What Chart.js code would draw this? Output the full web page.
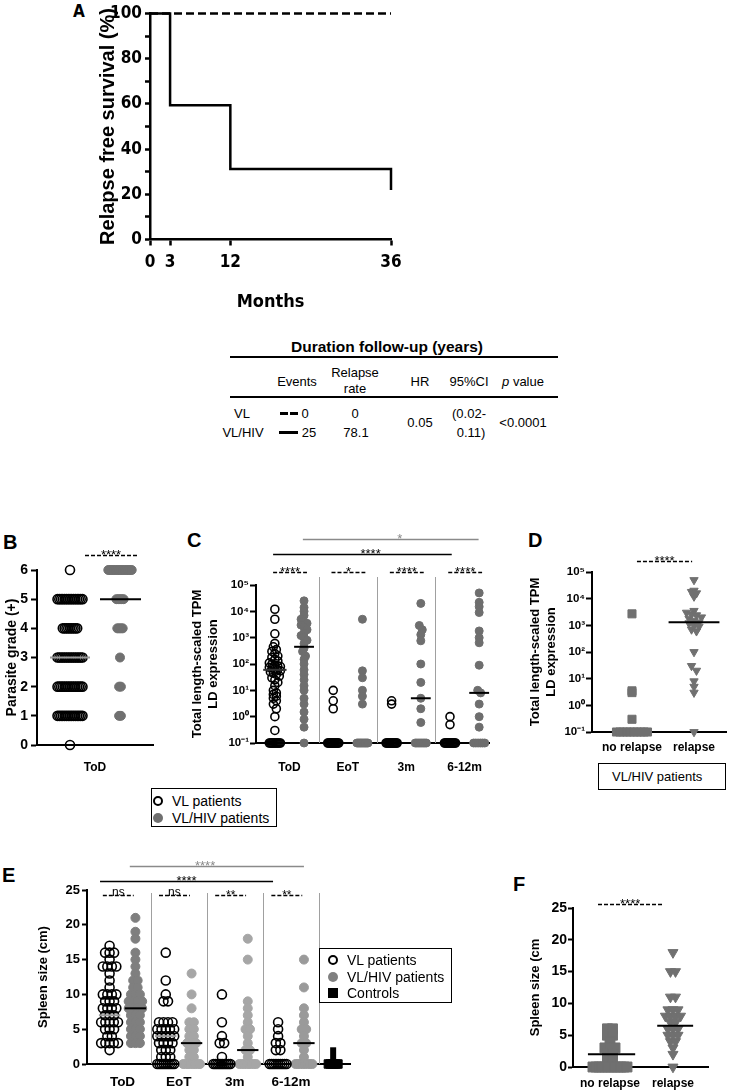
<!DOCTYPE html>
<html>
<head>
<meta charset="utf-8">
<script src="https://cdn.jsdelivr.net/npm/chart.js@4.4.1/dist/chart.umd.min.js"></script>
<style>
  html, body { margin: 0; padding: 0; background: #fff; }
  #page { position: relative; width: 736px; height: 1090px; overflow: hidden; font-family: 'Liberation Sans', Arial, sans-serif; color: #000; }
  canvas { position: absolute; }
  .letter { position: absolute; font-weight: bold; font-size: 20px; line-height: 1; }
  .c { position: absolute; transform: translate(-50%, -50%); white-space: nowrap; font-size: 13px; line-height: 1; }
  .l { position: absolute; transform: translateY(-50%); white-space: nowrap; font-size: 14px; line-height: 1; }
  .rule { position: absolute; background: #000; }
  .box { position: absolute; border: 1px solid #000; box-sizing: border-box; }
  .mark { position: absolute; width: 10px; height: 10px; transform: translate(-50%, -50%); box-sizing: border-box; }
</style>
</head>
<body>
<div id="page">
  <!-- panel letters -->
  <div class="letter" style="left:73px;top:3px;font-size:17px;font-family:'Liberation Sans Narrow','DejaVu Sans Condensed','Liberation Sans',sans-serif">A</div>
  <div class="letter" style="left:3px;top:532px">B</div>
  <div class="letter" style="left:187px;top:530px">C</div>
  <div class="letter" style="left:528px;top:530px">D</div>
  <div class="letter" style="left:2px;top:865px">E</div>
  <div class="letter" style="left:513px;top:874px">F</div>

  <canvas id="chartA" width="340" height="320" style="left:86px;top:0"></canvas>

  <!-- follow-up table -->
  <div class="c" style="left:387px;top:347px;font-weight:bold;font-size:15.5px">Duration follow-up (years)</div>
  <div class="rule" style="left:230px;top:356px;width:328px;height:2px"></div>
  <div class="c" style="left:297px;top:381px">Events</div>
  <div class="c" style="left:355px;top:372px">Relapse</div>
  <div class="c" style="left:355px;top:388px">rate</div>
  <div class="c" style="left:420px;top:381px">HR</div>
  <div class="c" style="left:469px;top:381px">95%CI</div>
  <div class="c" style="left:523px;top:381px"><i>p</i> value</div>
  <div class="rule" style="left:230px;top:396px;width:328px;height:2px"></div>
  <div class="c" style="left:242px;top:413px">VL</div>
  <div class="c" style="left:243px;top:432px">VL/HIV</div>
  <div class="rule" style="left:280px;top:412px;width:8px;height:3px"></div>
  <div class="rule" style="left:290px;top:412px;width:8px;height:3px"></div>
  <div class="rule" style="left:279px;top:431px;width:19px;height:3px"></div>
  <div class="c" style="left:305px;top:413px">0</div>
  <div class="c" style="left:309px;top:432px">25</div>
  <div class="c" style="left:355px;top:413px">0</div>
  <div class="c" style="left:356px;top:432px">78.1</div>
  <div class="c" style="left:420px;top:422px">0.05</div>
  <div class="c" style="left:469px;top:413px">(0.02-</div>
  <div class="c" style="left:471px;top:432px">0.11)</div>
  <div class="c" style="left:523px;top:422px">&lt;0.0001</div>

  <canvas id="chartB" width="180" height="245" style="left:0;top:540px"></canvas>
  <canvas id="chartC" width="320" height="255" style="left:180px;top:525px"></canvas>
  <canvas id="chartD" width="236" height="230" style="left:500px;top:530px"></canvas>

  <!-- legend C -->
  <div class="box" style="left:151px;top:788px;width:126px;height:39px"></div>
  <div class="mark" style="left:158px;top:801px;border:2.5px solid #000;border-radius:50%"></div>
  <div class="mark" style="left:158px;top:818px;background:#707070;border-radius:50%"></div>
  <div class="l" style="left:172px;top:801px">VL patients</div>
  <div class="l" style="left:172px;top:818px">VL/HIV patients</div>

  <!-- box under D -->
  <div class="box" style="left:598px;top:763px;width:128px;height:27px"></div>
  <div class="l" style="left:612px;top:776px;font-size:13px">VL/HIV patients</div>

  <canvas id="chartE" width="360" height="235" style="left:0;top:855px"></canvas>

  <!-- legend E -->
  <div class="box" style="left:319px;top:948px;width:133px;height:55px"></div>
  <div class="mark" style="left:333px;top:960px;border:2.5px solid #000;border-radius:50%"></div>
  <div class="mark" style="left:333px;top:977px;background:#808080;border-radius:50%"></div>
  <div class="mark" style="left:333px;top:993px;background:#000"></div>
  <div class="l" style="left:347px;top:960px">VL patients</div>
  <div class="l" style="left:347px;top:977px">VL/HIV patients</div>
  <div class="l" style="left:347px;top:993px">Controls</div>

  <canvas id="chartF" width="276" height="220" style="left:460px;top:870px"></canvas>
</div>

<script>
// ---- A: relapse-free survival
const kmMonths = [0, 3, 12, 36];
const kmVL = [100, 100, 100, 100];
const kmVLHIV = [100, 59.4, 31.2, 21.9];

// ---- B: parasite grade at ToD (patients per grade)
const gradeLevels = [0, 1, 2, 3, 4, 5, 6];
const gradeCountVL = [1, 15, 15, 15, 9, 15, 1];
const gradeCountVLHIV = [0, 2, 2, 1, 4, 5, 14];
const gradeMedianVL = 3;
const gradeMedianVLHIV = 5;

// ---- C: LD expression per timepoint (undetectable samples counted separately)
const tpmTimepoints = ['ToD', 'EoT', '3m', '6-12m'];
const tpmVL = [
  [12000, 5000, 1400, 600, 450, 350, 300, 250, 200, 180, 150, 130, 110, 100, 90, 85, 80, 75, 70, 65, 60, 55, 50, 45, 40, 35, 30, 25, 20, 15, 10, 8, 7, 6, 5, 4, 3, 2, 1, 0.3],
  [10, 4, 2],
  [4, 3],
  [1, 0.5]
];
const tpmVLUndetected = [12, 14, 14, 14];
const tpmVLHIV = [
  [25000, 14000, 10000, 7000, 5000, 4000, 3500, 3000, 2500, 2000, 1500, 1200, 1000, 800, 600, 400, 300, 200, 150, 100, 60, 40, 25, 15, 10, 5, 3, 1.5, 0.8, 0.4],
  [5000, 55, 30, 10, 6, 3],
  [20000, 2900, 2000, 1300, 760, 100, 20, 5, 2, 0.6],
  [50000, 22000, 15000, 9000, 1800, 1000, 640, 90, 10, 8, 3, 1, 0.4]
];
const tpmVLHIVUndetected = [1, 10, 8, 6];
const tpmMedianVL = [60, null, null, null];
const tpmMedianVLHIV = [450, null, 5, 8];
const tpmSigPair = ['****', '*', '****', '****'];

// ---- D: VL/HIV patients by outcome
const outcomeGroups = ['no relapse', 'relapse'];
const tpmNoRelapse = [2700, 3.5, 3, 0.3];
const tpmNoRelapseUndetected = 10;
const tpmRelapse = [50000, 20000, 18000, 16000, 12000, 3500, 3000, 2600, 2400, 2000, 1800, 1500, 1300, 1200, 1000, 900, 700, 600, 100, 30, 20, 8, 5, 3];
const tpmRelapseUndetected = 1;
const tpmRelapseMedian = 1300;

// ---- E: spleen size per timepoint
const spleenTimepoints = ['ToD', 'EoT', '3m', '6-12m'];
const spleenVL = [
  [17, 16, 16, 16, 15, 14, 14, 14, 14, 13, 12, 11, 10, 10, 10, 10, 9, 9, 9, 8, 8, 8, 8, 7, 7, 7, 6, 6, 6, 6, 6, 5, 5, 5, 4, 4, 3, 3, 3, 3, 3, 2],
  [16, 12, 10, 9, 9, 6, 6, 6, 6, 5, 5, 5, 5, 5, 4, 4, 4, 4, 4, 3, 3, 3, 3, 2, 2, 2, 1, 1, 1, 0, 0, 0, 0, 0, 0, 0, 0, 0],
  [10, 6, 4, 3, 3, 1, 0, 0, 0, 0, 0, 0, 0, 0, 0, 0],
  [6, 5, 4, 3, 3, 2, 2, 0, 0, 0, 0, 0, 0, 0, 0, 0]
];
const spleenVLHIV = [
  [21, 19, 18, 16, 15, 14, 13, 12, 12, 11, 11, 10, 10, 10, 9, 9, 9, 9, 8, 8, 8, 8, 7, 7, 7, 6, 6, 6, 5, 5, 5, 4, 4, 4, 3, 3, 3],
  [13, 10, 8, 6, 6, 5, 5, 4, 4, 3, 3, 3, 2, 2, 1, 1, 0, 0, 0, 0, 0, 0, 0, 0],
  [18, 15, 9, 8, 7, 6, 5, 5, 4, 3, 2, 2, 1, 0, 0, 0, 0, 0, 0, 0, 0],
  [15, 11, 8, 7, 6, 5, 5, 4, 3, 3, 2, 1, 0, 0, 0, 0, 0, 0, 0, 0]
];
const spleenMedianVL = [7, 4, null, null];
const spleenMedianVLHIV = [8, 3, 2, 3];
const spleenSigPair = ['ns', 'ns', '**', '**'];
const spleenControls = [0, 0, 0, 0, 0, 0];
const spleenControlsSD = 2.4;

// ---- F: spleen size by outcome
const spleenNoRelapse = [6, 6, 5, 5, 4, 3, 3, 3, 2, 2, 1, 1, 0, 0, 0, 0, 0, 0, 0, 0, 0, 0, 0, 0];
const spleenRelapse = [18, 15, 15, 11, 11, 9, 9, 9, 8, 8, 8, 8, 7, 7, 6, 6, 6, 5, 5, 5, 4, 4, 3, 2, 0];
const spleenOutcomeMedian = [2, 6.5];

const FONT = "'Liberation Sans', Arial, Helvetica, sans-serif";
const NARROW = "'Liberation Sans Narrow', 'DejaVu Sans Condensed', 'Liberation Sans', sans-serif";
Chart.defaults.font.family = FONT;
Chart.defaults.color = '#000';

const LOG_FLOOR = 0.1; // undetectable samples sit on the 10^-1 axis
const SUP = { '-': '⁻', '0': '⁰', '1': '¹', '2': '²', '3': '³', '4': '⁴', '5': '⁵' };
const decades = [0.1, 1, 10, 100, 1000, 10000, 100000];

function powerLabel(v) {
  const e = String(Math.round(Math.log10(v)));
  return '10' + e.split('').map(c => SUP[c]).join('');
}

function repeat(value, n) {
  return Array.from({ length: n }, () => value);
}

// spread points with the same (binned) value side by side around a column centre
function swarm(values, center, step, maxSpread, keyFn) {
  const bins = new Map();
  values.forEach(v => {
    const k = keyFn(v);
    if (!bins.has(k)) bins.set(k, []);
    bins.get(k).push(v);
  });
  const pts = [];
  bins.forEach(list => {
    const n = list.length;
    const w = Math.min(step * (n - 1), maxSpread);
    list.forEach((v, i) => pts.push({ x: center + (n > 1 ? w * (i / (n - 1) - 0.5) : 0), y: v }));
  });
  return pts;
}
const exactKey = v => v;
const logKey = v => Math.round(Math.log10(v) * 5);

function openCircles(pts, r) {
  return { data: pts, clip: false, pointStyle: 'circle', pointRadius: r, pointBorderWidth: 1.6,
    pointBorderColor: '#000', pointBackgroundColor: 'rgba(255,255,255,0)' };
}

function filled(pts, style, r, color, rotation) {
  return { data: pts, clip: false, pointStyle: style, pointRadius: r, pointRotation: rotation || 0,
    pointBorderWidth: 1, pointBorderColor: color, pointBackgroundColor: color };
}

function hline(x0, x1, y, color, width) {
  return { data: [{ x: x0, y: y }, { x: x1, y: y }], showLine: true, pointRadius: 0,
    borderColor: color, borderWidth: width || 2, clip: false, order: -1 };
}

function valueAxis(o) {
  return {
    type: o.log ? 'logarithmic' : 'linear',
    min: o.min, max: o.max,
    afterFit: s => { s.width = o.width; },
    afterBuildTicks: o.ticks ? s => { s.ticks = o.ticks.map(v => ({ value: v })); } : undefined,
    border: { color: '#000', width: o.lineWidth || 2 },
    grid: { drawOnChartArea: false, tickLength: o.tickLength || 5, tickColor: '#000', tickWidth: o.lineWidth || 2 },
    ticks: { color: '#000', autoSkip: false, padding: o.padding, stepSize: o.step, font: o.font, callback: o.callback },
    title: { display: true, text: o.title, color: '#000', font: o.titleFont, padding: { top: o.titleOffset, bottom: 0 } }
  };
}

function groupAxis(labels, min, max, height, fontSize, padding) {
  return {
    type: 'linear', min: min, max: max,
    afterFit: s => { s.height = height; },
    afterBuildTicks: s => { s.ticks = labels.map((_, i) => ({ value: i })); },
    border: { color: '#000', width: 2 },
    grid: { drawOnChartArea: false, drawTicks: false },
    ticks: { color: '#000', autoSkip: false, maxRotation: 0, padding: padding,
      font: { size: fontSize, weight: 'bold' }, callback: v => labels[v] }
  };
}

// group separators and significance brackets
function overlay(opts) {
  return {
    id: 'overlay',
    beforeDatasetsDraw(chart) {
      if (!opts.separators) return;
      const { ctx, chartArea, scales } = chart;
      ctx.save();
      ctx.strokeStyle = '#a0a0a0';
      ctx.lineWidth = 1;
      opts.separators.forEach(v => {
        const px = Math.round(scales.x.getPixelForValue(v)) + 0.5;
        ctx.beginPath();
        ctx.moveTo(px, chartArea.top + opts.sepTop);
        ctx.lineTo(px, chartArea.bottom);
        ctx.stroke();
      });
      ctx.restore();
    },
    afterDraw(chart) {
      const { ctx, chartArea, scales } = chart;
      ctx.save();
      (opts.brackets || []).forEach(b => {
        const x0 = scales.x.getPixelForValue(b.from);
        const x1 = scales.x.getPixelForValue(b.to);
        const y = Math.round(chartArea.top + b.dy) + 0.5;
        const color = b.color || '#000';
        ctx.strokeStyle = color;
        ctx.fillStyle = color;
        ctx.lineWidth = 1.3;
        ctx.setLineDash(b.dashed ? [4, 2] : []);
        ctx.beginPath();
        ctx.moveTo(x0, y);
        ctx.lineTo(x1, y);
        ctx.stroke();
        ctx.setLineDash([]);
        ctx.font = (b.size || 13) + 'px ' + FONT;
        ctx.textAlign = 'center';
        ctx.textBaseline = 'alphabetic';
        const tx = b.textAt !== undefined ? scales.x.getPixelForValue(b.textAt) : (x0 + x1) / 2;
        ctx.fillText(b.text, tx, y + (b.text.indexOf('*') >= 0 ? 3 : 0));
      });
      ctx.restore();
    }
  };
}

function makeChart(id, cfg) {
  return new Chart(document.getElementById(id), {
    type: 'scatter',
    data: { datasets: cfg.datasets },
    options: {
      responsive: false, animation: false, events: [],
      layout: { padding: cfg.padding },
      plugins: { legend: { display: false }, tooltip: { enabled: false } },
      scales: { x: cfg.x, y: cfg.y }
    },
    plugins: cfg.overlay ? [overlay(cfg.overlay)] : []
  });
}

// ---------- A
new Chart(document.getElementById('chartA'), {
  type: 'line',
  data: {
    datasets: [
      { data: kmMonths.map((m, i) => ({ x: m, y: kmVL[i] })), borderColor: '#000', borderWidth: 2.5,
        borderDash: [8, 4], pointRadius: 0, clip: false },
      { data: kmMonths.map((m, i) => ({ x: m, y: kmVLHIV[i] })), borderColor: '#000', borderWidth: 2.5,
        stepped: true, pointRadius: 0, clip: false }
    ]
  },
  options: {
    responsive: false, animation: false, events: [],
    layout: { padding: { top: 13.5, right: 35, left: 0, bottom: 0 } },
    plugins: { legend: { display: false }, tooltip: { enabled: false } },
    scales: {
      x: {
        type: 'linear', min: 0, max: 36,
        afterFit: s => { s.height = 80.5; },
        afterBuildTicks: s => { s.ticks = kmMonths.map(v => ({ value: v })); },
        border: { color: '#000', width: 2.5 },
        grid: { drawOnChartArea: false, tickLength: 6, tickColor: '#000', tickWidth: 2.5 },
        ticks: { color: '#000', autoSkip: false, maxRotation: 0, padding: 7,
          font: { family: NARROW, size: 17, weight: 'bold' } },
        title: { display: true, text: 'Months', color: '#000',
          font: { family: NARROW, size: 18, weight: 'bold' }, padding: { top: 0, bottom: 7 } }
      },
      y: valueAxis({
        min: 0, max: 100, step: 10, width: 64, lineWidth: 2.5, tickLength: 5, padding: 3,
        font: { family: NARROW, size: 17, weight: 'bold' },
        callback: v => (v % 20 === 0 ? v : ''),
        title: 'Relapse free survival (%)', titleFont: { size: 20, weight: 'bold' }, titleOffset: 10
      })
    }
  }
});

// ---------- B
const gradeVL = gradeLevels.flatMap((g, i) => repeat(g, gradeCountVL[i]));
const gradeVLHIV = gradeLevels.flatMap((g, i) => repeat(g, gradeCountVLHIV[i]));
makeChart('chartB', {
  padding: { top: 30, right: 27, left: 0, bottom: 0 },
  x: groupAxis(['ToD'], -0.58, 0.58, 40, 12, 15),
  y: valueAxis({
    min: 0, max: 6, step: 1, width: 37, tickLength: 6, padding: 3,
    font: { size: 14, weight: 'bold' },
    title: 'Parasite grade (+)', titleFont: { size: 14, weight: 'bold' }, titleOffset: 3.6
  }),
  datasets: [
    hline(-0.45, -0.05, gradeMedianVL, '#999'),
    hline(0.05, 0.46, gradeMedianVLHIV, '#000'),
    openCircles(swarm(gradeVL, -0.25, 0.018, 0.25, exactKey), 4.5),
    filled(swarm(gradeVLHIV, 0.25, 0.018, 0.24, exactKey), 'circle', 4.5, '#707070')
  ],
  overlay: { brackets: [{ from: -0.1, to: 0.42, dy: -15, text: '****', dashed: true }] }
});

// ---------- C
const datasetsC = [];
tpmTimepoints.forEach((t, g) => {
  if (tpmMedianVL[g] !== null) datasetsC.push(hline(g - 0.45, g - 0.05, tpmMedianVL[g], '#333'));
  if (tpmMedianVLHIV[g] !== null) datasetsC.push(hline(g + 0.08, g + 0.42, tpmMedianVLHIV[g], '#000'));
  datasetsC.push(openCircles(swarm(tpmVL[g].concat(repeat(LOG_FLOOR, tpmVLUndetected[g])),
    g - 0.25, 0.051, 0.19, logKey), 4));
  datasetsC.push(filled(swarm(tpmVLHIV[g].concat(repeat(LOG_FLOOR, tpmVLHIVUndetected[g])),
    g + 0.25, 0.051, 0.19, logKey), 'circle', 4, '#6e6e6e'));
});
const tpmTitle = ['Total length-scaled TPM', 'LD expression'];
makeChart('chartC', {
  padding: { top: 60, right: 10, left: 0, bottom: 0 },
  x: groupAxis(tpmTimepoints, -0.573, 3.43, 37, 12, 17),
  y: valueAxis({
    log: true, min: 0.1, max: 100000, ticks: decades, width: 76, tickLength: 6, padding: 1,
    font: { size: 11.5, weight: 'bold' }, callback: powerLabel,
    title: tpmTitle, titleFont: { size: 13, weight: 'bold', lineHeight: 1.3 }, titleOffset: 8.5
  }),
  datasets: datasetsC,
  overlay: {
    separators: [0.5, 1.5, 2.5], sepTop: -8,
    brackets: tpmSigPair.map((s, g) => ({ from: g - 0.28, to: g + 0.3, dy: -13, text: s, dashed: true }))
      .concat([
        { from: -0.28, to: 2.78, dy: -31, text: '****', textAt: 1.39 },
        { from: 0.23, to: 3.24, dy: -46, text: '*', textAt: 1.89, color: '#8a8a8a' }
      ])
  }
});

// ---------- D
makeChart('chartD', {
  padding: { top: 42, right: 10, left: 0, bottom: 0 },
  x: groupAxis(outcomeGroups, -0.645, 1.516, 28, 12, 8),
  y: valueAxis({
    log: true, min: 0.1, max: 100000, ticks: decades, width: 92, tickLength: 6, padding: 1,
    font: { size: 11.5, weight: 'bold' }, callback: powerLabel,
    title: tpmTitle, titleFont: { size: 13, weight: 'bold', lineHeight: 1.3 }, titleOffset: 26.5
  }),
  datasets: [
    hline(0.59, 1.41, tpmRelapseMedian, '#000'),
    filled(swarm(tpmNoRelapse.concat(repeat(LOG_FLOOR, tpmNoRelapseUndetected)), 0, 0.08, 0.5, logKey),
      'rect', 5.7, '#707070'),
    filled(swarm(tpmRelapse.concat(repeat(LOG_FLOOR, tpmRelapseUndetected)), 1, 0.08, 0.62, logKey),
      'triangle', 4.8, '#707070', 180)
  ],
  overlay: { brackets: [{ from: 0.08, to: 0.97, dy: -11, text: '****', dashed: true }] }
});

// ---------- E
const hivShadeE = ['#7f7f7f', '#a6a6a6', '#a6a6a6', '#9a9a9a'];
const datasetsE = [];
spleenTimepoints.forEach((t, g) => {
  if (spleenMedianVL[g] !== null) datasetsE.push(hline(g - 0.42, g - 0.04, spleenMedianVL[g], '#999'));
  if (spleenMedianVLHIV[g] !== null) datasetsE.push(hline(g + 0.04, g + 0.42, spleenMedianVLHIV[g], '#000'));
  datasetsE.push(openCircles(swarm(spleenVL[g], g - 0.23, 0.08, 0.3, exactKey), 4.5));
  datasetsE.push(filled(swarm(spleenVLHIV[g], g + 0.23, 0.08, 0.3, exactKey), 'circle', 4.5, hivShadeE[g]));
});
datasetsE.push({ data: [{ x: 3.75, y: 0 }, { x: 3.75, y: spleenControlsSD }], showLine: true, pointRadius: 0,
  borderColor: '#000', borderWidth: 6, clip: false });
datasetsE.push(filled(swarm(spleenControls, 3.75, 0.04, 0.17, exactKey), 'rect', 6, '#000'));
makeChart('chartE', {
  padding: { top: 35, right: 10, left: 0, bottom: 0 },
  x: groupAxis(spleenTimepoints, -0.632, 4.05, 26, 13.5, 10),
  y: valueAxis({
    min: 0, max: 25, step: 5, width: 87, tickLength: 5, padding: 2,
    font: { size: 13, weight: 'bold' },
    title: 'Spleen size (cm)', titleFont: { size: 13, weight: 'bold' }, titleOffset: 35.2
  }),
  datasets: datasetsE,
  overlay: {
    separators: [0.5, 1.5, 2.5, 3.5], sepTop: 3,
    brackets: spleenSigPair.map((s, g) => ({ from: g - 0.35, to: g + 0.2, dy: 5, text: s, dashed: true, size: 12 }))
      .concat([
        { from: -0.4, to: 2.68, dy: -9, text: '****' },
        { from: 0.13, to: 3.23, dy: -24, text: '****', textAt: 1.47, color: '#8a8a8a' }
      ])
  }
});

// ---------- F
makeChart('chartF', {
  padding: { top: 38, right: 28, left: 0, bottom: 0 },
  x: groupAxis(outcomeGroups, -0.587, 1.556, 23, 12, 9),
  y: valueAxis({
    min: 0, max: 25, step: 5, width: 113, tickLength: 5, padding: 1,
    font: { size: 14, weight: 'bold' },
    title: 'Spleen size (cm', titleFont: { size: 13, weight: 'bold' }, titleOffset: 67.2
  }),
  datasets: [
    hline(-0.35, 0.4, spleenOutcomeMedian[0], '#000'),
    hline(0.75, 1.32, spleenOutcomeMedian[1], '#000'),
    filled(swarm(spleenNoRelapse, 0, 0.08, 0.54, exactKey), 'rect', 7, '#707070'),
    filled(swarm(spleenRelapse, 1, 0.08, 0.5, exactKey), 'triangle', 5.8, '#707070', 180)
  ],
  overlay: { brackets: [{ from: -0.19, to: 0.83, dy: -4, text: '****', dashed: true }] }
});
</script>
</body>
</html>
